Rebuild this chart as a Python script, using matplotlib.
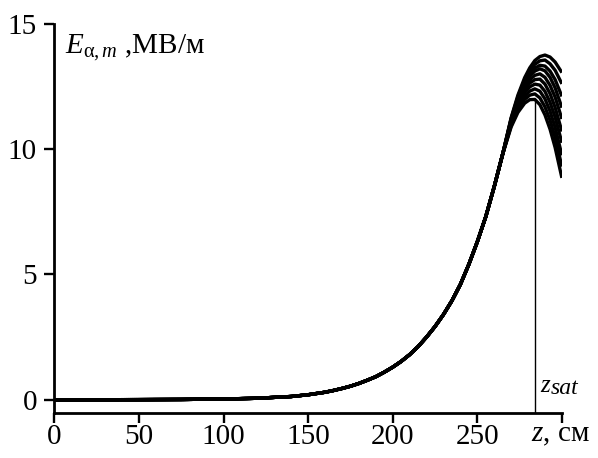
import numpy as np
import matplotlib.pyplot as plt

# shared part of all curves (z in cm, E in MV/m)
z_base = [0, 25, 50, 75, 100, 120, 140, 150, 155, 160, 165, 170, 175, 180,
          185, 190, 195, 200, 205, 210, 215, 220, 225, 230, 235, 240, 245,
          250, 255, 260, 265]
e_base = [0.0, 0.002, 0.005, 0.012, 0.03, 0.06, 0.13, 0.2, 0.25, 0.3, 0.37,
          0.45, 0.54, 0.65, 0.78, 0.92, 1.1, 1.3, 1.53, 1.8, 2.12, 2.5, 2.92,
          3.4, 3.95, 4.6, 5.4, 6.3, 7.3, 8.5, 9.8]

# the tails split into a family of curves near saturation
z_tail = [270, 274, 278, 281, 284, 287, 290, 293, 296, 300]
e_tails = [
    [10.88, 11.46, 11.83, 11.97, 11.98, 11.77, 11.36, 10.79, 10.06, 8.85],
    [10.93, 11.56, 11.98, 12.15, 12.20, 12.04, 11.68, 11.15, 10.46, 9.30],
    [10.98, 11.65, 12.11, 12.31, 12.40, 12.31, 12.00, 11.51, 10.86, 9.75],
    [11.04, 11.75, 12.25, 12.48, 12.59, 12.55, 12.30, 11.86, 11.27, 10.25],
    [11.08, 11.83, 12.37, 12.63, 12.77, 12.79, 12.59, 12.21, 11.66, 10.70],
    [11.12, 11.91, 12.48, 12.77, 12.94, 13.00, 12.86, 12.54, 12.07, 11.20],
    [11.16, 11.98, 12.59, 12.91, 13.11, 13.20, 13.12, 12.86, 12.44, 11.65],
    [11.19, 12.02, 12.66, 13.00, 13.23, 13.34, 13.31, 13.11, 12.77, 12.10],
    [11.22, 12.09, 12.76, 13.12, 13.38, 13.52, 13.55, 13.40, 13.14, 12.60],
    [11.25, 12.15, 12.85, 13.24, 13.53, 13.69, 13.75, 13.67, 13.47, 13.05],
]
z_sat = 284
e_sat = 12.0

x_ticks = [0, 50, 100, 150, 200, 250, 300]
x_labels = ['0', '50', '100', '150', '200', '250', '']
y_ticks = [0, 5, 10, 15]

plt.rcParams['font.family'] = 'Liberation Serif'
plt.rcParams['mathtext.fontset'] = 'custom'
plt.rcParams['mathtext.rm'] = 'Liberation Serif'
plt.rcParams['mathtext.it'] = 'Liberation Serif:italic'

W, H = 598, 458
fig = plt.figure(figsize=(W / 100, H / 100), dpi=100)
ax = fig.add_axes([54.3 / W, (H - 413.3) / H, 507.6 / W, 389.6 / H])

for tail in e_tails:
    ax.plot(z_base + z_tail, e_base + tail, color='black', lw=2.4,
            solid_capstyle='butt', solid_joinstyle='round')

ymin = -0.54
ax.vlines(z_sat, ymin, e_sat, color='black', lw=1.0)

ax.set_xlim(0, 300)
ax.set_ylim(ymin, 15)
ax.set_xticks(x_ticks)
ax.set_xticklabels(x_labels)
ax.set_yticks(y_ticks)
for s in ['top', 'right']:
    ax.spines[s].set_visible(False)
for s in ['left', 'bottom']:
    ax.spines[s].set_linewidth(2.0)
ax.tick_params(direction='out', length=7.5, width=1.7, labelsize=21)
ax.tick_params(axis='x', pad=0.5)
ax.tick_params(axis='y', pad=5)

fig.text(65 / W, 1 - 53 / H, r'$E_{\mathrm{α},m}$ ,МВ/м', fontsize=21,
         va='baseline', ha='left')
fig.text(531 / W, 1 - 441 / H, r'$z$, см', fontsize=21,
         va='baseline', ha='left')
fig.text(540 / W, 1 - 392 / H, 'z', fontsize=18, style='italic',
         va='baseline', ha='left')
fig.text(551 / W, 1 - 394 / H, 'sat', fontsize=17, style='italic',
         va='baseline', ha='left')

fig.savefig('out.png', dpi=100)
